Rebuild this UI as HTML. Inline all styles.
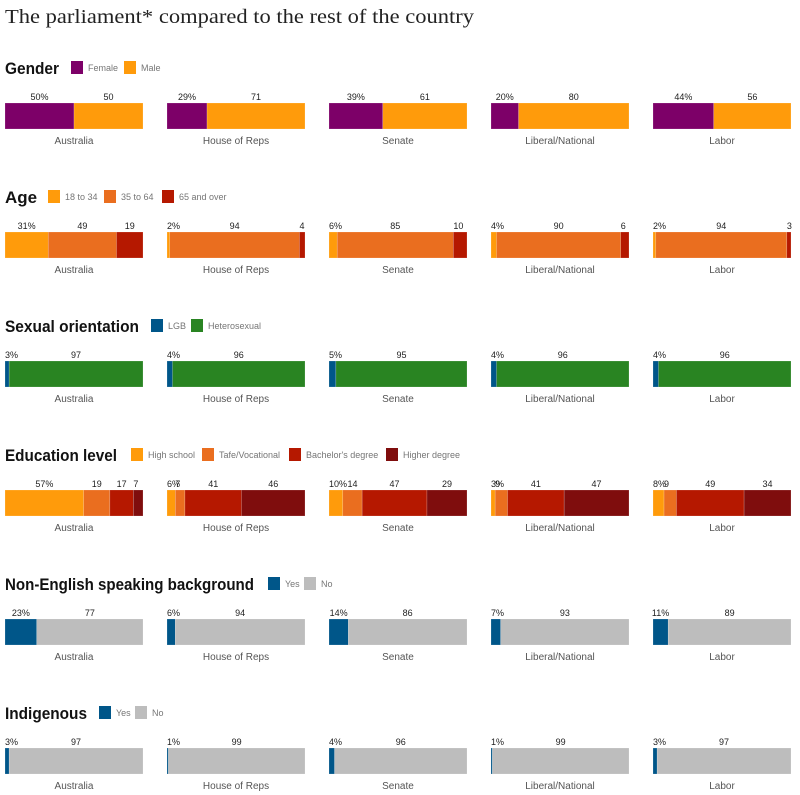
<!DOCTYPE html>
<html><head><meta charset="utf-8"><style>
body{margin:0;background:#fff;}
svg{display:block;font-family:"Liberation Sans",sans-serif;}
</style></head><body>
<svg id="c" width="800" height="795"></svg>
<script>
const groups=["Australia","House of Reps","Senate","Liberal/National","Labor"];
const genderVals=[[50,50],[29,71],[39,61],[20,80],[44,56]];
const ageVals=[[31,49,19],[2,94,4],[6,85,10],[4,90,6],[2,94,3]];
const sexVals=[[3,97],[4,96],[5,95],[4,96],[4,96]];
const eduVals=[[57,19,17,7],[6,7,41,46],[10,14,47,29],[3,9,41,47],[8,9,49,34]];
const nesbVals=[[23,77],[6,94],[14,86],[7,93],[11,89]];
const indigVals=[[3,97],[1,99],[4,96],[1,99],[3,97]];
const sections=[
 {title:"Gender",tw:54,keys:["Female","Male"],legX:[71,124],colors:["#7d0068","#ff9b0b"],vals:genderVals},
 {title:"Age",tw:32,keys:["18 to 34","35 to 64","65 and over"],legX:[48,104,162],colors:["#ff9b0b","#ea6e1f","#b51800"],vals:ageVals},
 {title:"Sexual orientation",tw:134,keys:["LGB","Heterosexual"],legX:[151,191],colors:["#005689","#298422"],vals:sexVals},
 {title:"Education level",tw:112,keys:["High school","Tafe/Vocational","Bachelor's degree","Higher degree"],legX:[131,202,289,386],colors:["#ff9b0b","#ea6e1f","#b51800","#7f0d0d"],vals:eduVals},
 {title:"Non-English speaking background",tw:249,keys:["Yes","No"],legX:[268,304],colors:["#005689","#bdbdbd"],vals:nesbVals},
 {title:"Indigenous",tw:82,keys:["Yes","No"],legX:[99,135],colors:["#005689","#bdbdbd"],vals:indigVals}
];
const NS="http://www.w3.org/2000/svg";
const svg=document.getElementById('c');
function mk(tag,attrs,parent,txt){const e=document.createElementNS(NS,tag);for(const k in attrs)e.setAttribute(k,attrs[k]);if(txt!==undefined)e.textContent=txt;(parent||svg).appendChild(e);return e;}
const t=mk('text',{x:5,y:23,'font-family':'"Liberation Serif",serif','font-size':20,fill:'#222',textLength:469,lengthAdjust:'spacingAndGlyphs'},svg,"The parliament* compared to the rest of the country");


const colX=[5,167,329,491,653], barW=138, barH=26;
sections.forEach((s,si)=>{
  const top=129*si;
  const g=mk('g',{});
  
  
  const h=mk('text',{x:5,y:74+top,'font-size':17,'font-weight':'bold',fill:'#121212',textLength:s.tw,lengthAdjust:'spacingAndGlyphs'},g,s.title);
  
  
  s.keys.forEach((k,i)=>{
    const r=mk('rect',{x:s.legX[i],y:61+top,width:12,height:13,fill:s.colors[i]},g);
    
    
    const lt=mk('text',{x:s.legX[i]+17,y:71+top,'font-size':9,fill:'#767676'},g,k);
    
    
  });
  s.vals.forEach((vals,gi)=>{
    const sum=vals.reduce((a,b)=>a+b,0);
    let x=colX[gi];
    const by=103+top;
    vals.forEach((v,vi)=>{
      const w=v/sum*barW;
      const r=mk('rect',{x:x,y:by,width:w,height:barH,fill:s.colors[vi],stroke:'#fff','stroke-opacity':0.35,'stroke-width':0.5},g);
      
      
      let lx=x+w/2, anchor='middle';
      if(w<14){lx=x; anchor='start';}
      const l=mk('text',{x:lx,y:by-3,'font-size':9,fill:'#222','text-anchor':anchor},g,vi===0?v+'%':String(v));
      
      
      x+=w;
    });
    const c=mk('text',{x:colX[gi]+barW/2,y:by+41,'font-size':10,fill:'#555','text-anchor':'middle'},g,groups[gi]);
    
    
  });
});
</script>
</body></html>
